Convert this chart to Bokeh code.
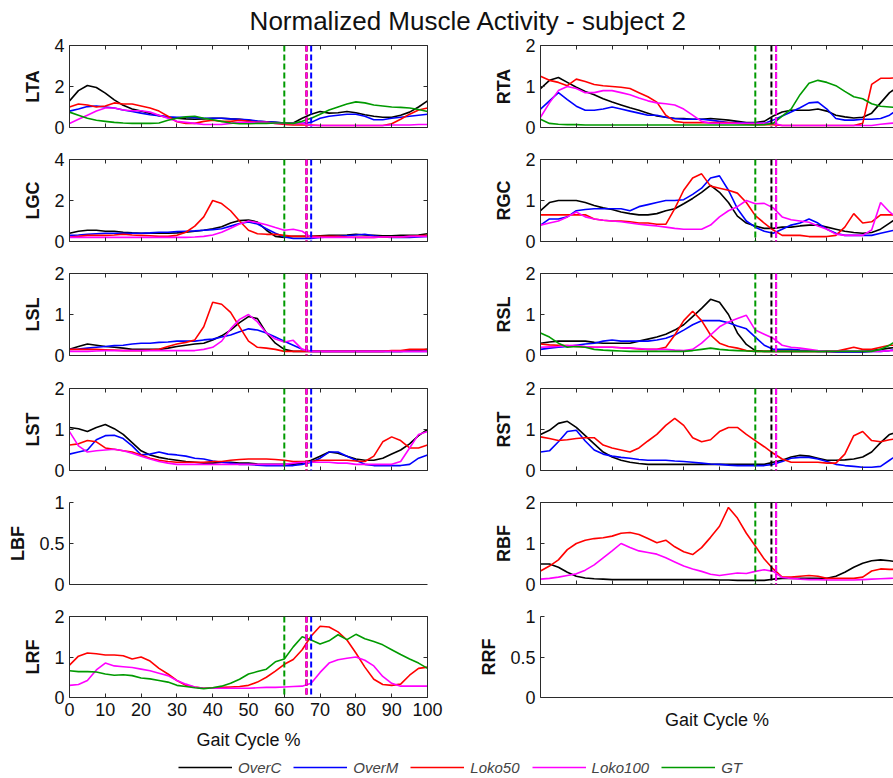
from bokeh.plotting import figure
from bokeh.layouts import column, row
from bokeh.models import (Range1d, LinearAxis, FixedTicker, Span, Legend, LegendItem,
                          Label, NumeralTickFormatter, CustomLabelingPolicy)
from bokeh.embed import file_html
from bokeh.resources import INLINE

# ---------------------------------------------------------------- data
gait_pct = [0, 2.5, 5, 7.5, 10, 12.5, 15, 17.5, 20, 22.5, 25, 27.5, 30, 32.5, 35, 37.5,
            40, 42.5, 45, 47.5, 50, 52.5, 55, 57.5, 60, 62.5, 65, 67.5, 70, 72.5, 75,
            77.5, 80, 82.5, 85, 87.5, 90, 92.5, 95, 97.5, 100]
gait_ticks = [0, 10, 20, 30, 40, 50, 60, 70, 80, 90, 100]
ticks_0_4 = [0, 2, 4]
ticks_0_2 = [0, 1, 2]
ticks_0_1 = [0, 0.5, 1]

series_names = ["OverC", "OverM", "Loko50", "Loko100", "GT"]

# toe-off instants (% gait cycle) per condition, left and right leg
toe_off_left = {"OverC": 66.2, "OverM": 67.5, "Loko50": 66.2, "Loko100": 66.2, "GT": 60.0}
toe_off_right = {"OverC": 64.5, "OverM": 65.8, "Loko50": 65.8, "Loko100": 65.8, "GT": 60.0}

LTA_overc = [1.30, 1.80, 2.05, 1.95, 1.68, 1.35, 1.08, 0.90, 0.80, 0.68,
             0.58, 0.50, 0.45, 0.42, 0.40, 0.42, 0.45, 0.45, 0.42, 0.40,
             0.35, 0.30, 0.28, 0.25, 0.22, 0.22, 0.45, 0.65, 0.78, 0.70,
             0.72, 0.78, 0.72, 0.62, 0.55, 0.50, 0.50, 0.60, 0.75, 1.00, 1.30]
LTA_overm = [0.80, 0.90, 1.02, 1.05, 1.00, 0.95, 0.85, 0.78, 0.70, 0.62,
             0.58, 0.52, 0.50, 0.50, 0.48, 0.45, 0.45, 0.45, 0.42, 0.40,
             0.38, 0.32, 0.28, 0.25, 0.22, 0.20, 0.20, 0.25, 0.45, 0.55,
             0.60, 0.65, 0.65, 0.55, 0.38, 0.38, 0.45, 0.50, 0.55, 0.60, 0.65]
LTA_loko50 = [1.00, 1.15, 1.10, 1.00, 1.05, 1.20, 1.15, 1.15, 1.05, 0.95,
              0.80, 0.55, 0.28, 0.20, 0.20, 0.30, 0.35, 0.30, 0.30, 0.35,
              0.30, 0.25, 0.25, 0.20, 0.15, 0.12, 0.12, 0.12, 0.10, 0.10,
              0.10, 0.10, 0.10, 0.10, 0.10, 0.10, 0.18, 0.40, 0.65, 0.85, 0.95]
LTA_loko100 = [0.20, 0.40, 0.60, 0.80, 0.95, 0.95, 0.85, 0.82, 0.82, 0.75,
               0.60, 0.45, 0.30, 0.25, 0.20, 0.15, 0.15, 0.15, 0.20, 0.25,
               0.25, 0.25, 0.25, 0.20, 0.20, 0.20, 0.20, 0.10, 0.10, 0.10,
               0.10, 0.10, 0.10, 0.10, 0.10, 0.10, 0.12, 0.12, 0.12, 0.15, 0.15]
LTA_gt = [0.75, 0.60, 0.45, 0.35, 0.30, 0.25, 0.22, 0.20, 0.20, 0.20,
          0.22, 0.35, 0.45, 0.52, 0.55, 0.45, 0.38, 0.30, 0.22, 0.18,
          0.18, 0.20, 0.20, 0.22, 0.22, 0.20, 0.30, 0.45, 0.65, 0.85,
          1.00, 1.15, 1.25, 1.20, 1.10, 1.05, 1.00, 0.98, 0.95, 0.88, 0.78]

RTA_overc = [0.95, 1.15, 1.22, 1.10, 0.98, 0.88, 0.80, 0.70, 0.62, 0.55,
             0.48, 0.42, 0.35, 0.28, 0.25, 0.22, 0.22, 0.20, 0.20, 0.22,
             0.20, 0.18, 0.15, 0.12, 0.12, 0.15, 0.28, 0.38, 0.42, 0.42,
             0.42, 0.45, 0.40, 0.30, 0.26, 0.23, 0.25, 0.35, 0.60, 0.85, 1.00]
RTA_overm = [0.45, 0.65, 0.85, 0.68, 0.52, 0.42, 0.42, 0.45, 0.50, 0.45,
             0.40, 0.35, 0.30, 0.30, 0.25, 0.22, 0.20, 0.20, 0.20, 0.18,
             0.15, 0.12, 0.12, 0.10, 0.10, 0.10, 0.18, 0.28, 0.38, 0.48,
             0.60, 0.62, 0.45, 0.22, 0.18, 0.18, 0.20, 0.20, 0.22, 0.30, 0.45]
RTA_loko50 = [1.25, 1.15, 1.10, 1.02, 1.18, 1.12, 1.05, 1.02, 1.00, 0.98,
              0.95, 0.85, 0.75, 0.62, 0.30, 0.15, 0.12, 0.12, 0.12, 0.12,
              0.12, 0.12, 0.10, 0.08, 0.07, 0.07, 0.07, 0.05, 0.05, 0.05,
              0.05, 0.05, 0.05, 0.05, 0.05, 0.05, 0.10, 1.05, 1.20, 1.20, 1.22]
RTA_loko100 = [0.25, 0.60, 0.90, 1.00, 0.95, 0.85, 0.85, 0.90, 0.90, 0.85,
               0.80, 0.72, 0.65, 0.60, 0.58, 0.55, 0.45, 0.30, 0.15, 0.10,
               0.10, 0.10, 0.10, 0.10, 0.10, 0.10, 0.10, 0.05, 0.05, 0.05,
               0.05, 0.05, 0.05, 0.05, 0.05, 0.05, 0.05, 0.05, 0.08, 0.10, 0.12]
RTA_gt = [0.20, 0.10, 0.08, 0.07, 0.07, 0.06, 0.06, 0.06, 0.06, 0.06,
          0.06, 0.06, 0.06, 0.06, 0.06, 0.06, 0.06, 0.06, 0.06, 0.06,
          0.06, 0.06, 0.06, 0.06, 0.06, 0.07, 0.10, 0.28, 0.45, 0.80,
          1.08, 1.15, 1.10, 1.02, 0.88, 0.75, 0.70, 0.58, 0.52, 0.50, 0.48]

LGC_overc = [0.40, 0.50, 0.55, 0.55, 0.50, 0.50, 0.45, 0.42, 0.40, 0.40,
             0.40, 0.40, 0.42, 0.45, 0.50, 0.55, 0.62, 0.72, 0.90, 1.02,
             1.05, 0.95, 0.55, 0.25, 0.20, 0.25, 0.25, 0.25, 0.28, 0.30,
             0.30, 0.32, 0.35, 0.32, 0.30, 0.28, 0.28, 0.30, 0.30, 0.32, 0.38]
LGC_overm = [0.30, 0.32, 0.35, 0.38, 0.40, 0.40, 0.40, 0.40, 0.40, 0.42,
             0.45, 0.45, 0.48, 0.50, 0.52, 0.55, 0.58, 0.62, 0.75, 0.88,
             0.95, 0.85, 0.62, 0.40, 0.22, 0.15, 0.15, 0.15, 0.20, 0.22,
             0.25, 0.28, 0.32, 0.35, 0.28, 0.22, 0.20, 0.20, 0.20, 0.22, 0.25]
LGC_loko50 = [0.22, 0.25, 0.30, 0.30, 0.30, 0.32, 0.35, 0.32, 0.30, 0.28,
              0.25, 0.25, 0.30, 0.45, 0.75, 1.20, 2.00, 1.85, 1.50, 1.00,
              0.55, 0.38, 0.35, 0.35, 0.30, 0.25, 0.25, 0.25, 0.25, 0.25,
              0.25, 0.22, 0.20, 0.20, 0.20, 0.22, 0.22, 0.22, 0.25, 0.28, 0.30]
LGC_loko100 = [0.20, 0.20, 0.20, 0.20, 0.20, 0.20, 0.20, 0.20, 0.20, 0.20,
               0.20, 0.20, 0.20, 0.20, 0.22, 0.25, 0.32, 0.45, 0.65, 0.85,
               1.00, 0.92, 0.82, 0.68, 0.55, 0.60, 0.50, 0.20, 0.20, 0.20,
               0.20, 0.20, 0.20, 0.20, 0.20, 0.22, 0.22, 0.22, 0.25, 0.25, 0.25]

RGC_overc = [0.75, 0.95, 1.00, 1.00, 1.00, 0.95, 0.88, 0.82, 0.78, 0.72,
             0.68, 0.65, 0.65, 0.68, 0.75, 0.80, 0.92, 1.05, 1.20, 1.37,
             1.20, 0.95, 0.62, 0.45, 0.38, 0.32, 0.32, 0.35, 0.35, 0.38,
             0.40, 0.40, 0.35, 0.30, 0.25, 0.22, 0.20, 0.22, 0.30, 0.45, 0.60]
RGC_overm = [0.40, 0.55, 0.55, 0.60, 0.75, 0.78, 0.80, 0.80, 0.80, 0.80,
             0.75, 0.85, 0.90, 0.95, 1.00, 1.00, 1.02, 1.15, 1.30, 1.55,
             1.60, 1.25, 0.80, 0.50, 0.35, 0.25, 0.20, 0.30, 0.40, 0.45,
             0.55, 0.45, 0.30, 0.20, 0.15, 0.15, 0.15, 0.15, 0.20, 0.25, 0.30]
RGC_loko50 = [0.65, 0.65, 0.65, 0.65, 0.65, 0.65, 0.55, 0.52, 0.50, 0.50,
              0.48, 0.45, 0.45, 0.42, 0.42, 0.80, 1.25, 1.55, 1.65, 1.35,
              1.30, 1.25, 1.18, 0.95, 0.63, 0.45, 0.28, 0.15, 0.15, 0.15,
              0.12, 0.12, 0.12, 0.15, 0.35, 0.68, 0.45, 0.48, 0.65, 0.65, 0.65]
RGC_loko100 = [0.40, 0.45, 0.50, 0.60, 0.72, 0.60, 0.55, 0.52, 0.50, 0.48,
               0.45, 0.42, 0.40, 0.38, 0.35, 0.32, 0.30, 0.30, 0.30, 0.40,
               0.60, 0.75, 0.85, 1.00, 0.92, 0.93, 0.82, 0.60, 0.53, 0.50,
               0.47, 0.38, 0.30, 0.18, 0.15, 0.15, 0.15, 0.28, 0.95, 0.72, 0.55]

LSL_overc = [0.15, 0.22, 0.28, 0.25, 0.22, 0.20, 0.18, 0.15, 0.15, 0.15,
             0.15, 0.18, 0.22, 0.25, 0.28, 0.30, 0.38, 0.48, 0.62, 0.80,
             0.95, 0.90, 0.55, 0.30, 0.15, 0.10, 0.10, 0.10, 0.10, 0.10,
             0.10, 0.10, 0.10, 0.10, 0.10, 0.10, 0.10, 0.10, 0.12, 0.12, 0.15]
LSL_overm = [0.15, 0.16, 0.18, 0.20, 0.22, 0.24, 0.25, 0.28, 0.30, 0.30,
             0.32, 0.33, 0.35, 0.35, 0.35, 0.38, 0.40, 0.45, 0.50, 0.58,
             0.65, 0.62, 0.55, 0.45, 0.35, 0.25, 0.15, 0.10, 0.10, 0.10,
             0.10, 0.10, 0.10, 0.10, 0.10, 0.10, 0.10, 0.10, 0.10, 0.10, 0.10]
LSL_loko50 = [0.15, 0.15, 0.15, 0.15, 0.14, 0.13, 0.12, 0.12, 0.12, 0.13,
              0.15, 0.22, 0.28, 0.32, 0.38, 0.70, 1.30, 1.25, 1.05, 0.70,
              0.35, 0.20, 0.18, 0.15, 0.10, 0.10, 0.10, 0.10, 0.10, 0.10,
              0.10, 0.10, 0.10, 0.10, 0.10, 0.10, 0.12, 0.12, 0.15, 0.15, 0.15]
LSL_loko100 = [0.10, 0.10, 0.10, 0.11, 0.12, 0.12, 0.12, 0.12, 0.12, 0.12,
               0.12, 0.12, 0.12, 0.12, 0.12, 0.15, 0.20, 0.35, 0.65, 0.88,
               1.00, 0.82, 0.55, 0.40, 0.33, 0.37, 0.15, 0.10, 0.10, 0.10,
               0.10, 0.10, 0.10, 0.10, 0.10, 0.10, 0.10, 0.10, 0.10, 0.10, 0.10]

RSL_overc = [0.30, 0.33, 0.35, 0.35, 0.35, 0.35, 0.32, 0.30, 0.30, 0.30,
             0.30, 0.35, 0.40, 0.45, 0.52, 0.62, 0.75, 0.95, 1.15, 1.37,
             1.30, 1.00, 0.55, 0.27, 0.12, 0.10, 0.10, 0.10, 0.10, 0.10,
             0.10, 0.10, 0.10, 0.10, 0.10, 0.10, 0.10, 0.12, 0.15, 0.18, 0.20]
RSL_overm = [0.15, 0.18, 0.20, 0.22, 0.25, 0.28, 0.30, 0.35, 0.38, 0.35,
             0.35, 0.35, 0.35, 0.38, 0.42, 0.50, 0.62, 0.75, 0.85, 0.85,
             0.85, 0.80, 0.72, 0.65, 0.45, 0.25, 0.15, 0.15, 0.15, 0.13,
             0.12, 0.10, 0.10, 0.08, 0.08, 0.08, 0.08, 0.10, 0.10, 0.12, 0.15]
RSL_loko50 = [0.28, 0.26, 0.25, 0.24, 0.22, 0.21, 0.20, 0.20, 0.20, 0.19,
              0.18, 0.16, 0.15, 0.15, 0.20, 0.50, 0.85, 1.08, 0.85, 0.50,
              0.30, 0.22, 0.18, 0.12, 0.10, 0.10, 0.10, 0.10, 0.10, 0.10,
              0.10, 0.10, 0.10, 0.10, 0.15, 0.20, 0.15, 0.15, 0.20, 0.25, 0.25]
RSL_loko100 = [0.20, 0.21, 0.22, 0.24, 0.25, 0.22, 0.20, 0.20, 0.20, 0.19,
               0.18, 0.17, 0.15, 0.15, 0.15, 0.13, 0.12, 0.15, 0.30, 0.50,
               0.70, 0.82, 0.90, 0.98, 0.62, 0.52, 0.42, 0.25, 0.20, 0.18,
               0.15, 0.12, 0.10, 0.10, 0.10, 0.10, 0.10, 0.10, 0.10, 0.12, 0.12]
RSL_gt = [0.55, 0.45, 0.30, 0.20, 0.22, 0.20, 0.15, 0.13, 0.12, 0.11,
          0.10, 0.10, 0.10, 0.10, 0.10, 0.10, 0.10, 0.12, 0.15, 0.18,
          0.15, 0.13, 0.12, 0.11, 0.10, 0.10, 0.10, 0.10, 0.10, 0.10,
          0.10, 0.10, 0.10, 0.10, 0.10, 0.10, 0.10, 0.10, 0.15, 0.25, 0.40]

LST_overc = [1.05, 1.02, 0.95, 1.05, 1.12, 1.02, 0.88, 0.68, 0.48, 0.38,
             0.32, 0.28, 0.25, 0.22, 0.20, 0.18, 0.18, 0.20, 0.20, 0.18,
             0.18, 0.16, 0.15, 0.15, 0.15, 0.15, 0.18, 0.25, 0.35, 0.45,
             0.42, 0.35, 0.28, 0.25, 0.25, 0.30, 0.40, 0.50, 0.65, 0.85, 1.00]
LST_overm = [0.40, 0.45, 0.50, 0.75, 0.85, 0.86, 0.78, 0.60, 0.38, 0.40,
             0.45, 0.40, 0.38, 0.35, 0.30, 0.28, 0.23, 0.20, 0.18, 0.15,
             0.15, 0.13, 0.12, 0.12, 0.12, 0.12, 0.15, 0.20, 0.30, 0.45,
             0.45, 0.35, 0.25, 0.15, 0.12, 0.12, 0.12, 0.12, 0.15, 0.30, 0.38]
LST_loko50 = [0.62, 0.65, 0.73, 0.70, 0.55, 0.52, 0.48, 0.45, 0.38, 0.30,
              0.25, 0.22, 0.20, 0.20, 0.20, 0.20, 0.22, 0.22, 0.25, 0.27,
              0.28, 0.28, 0.28, 0.27, 0.25, 0.22, 0.22, 0.22, 0.25, 0.25,
              0.25, 0.25, 0.23, 0.22, 0.35, 0.70, 0.82, 0.73, 0.55, 0.55, 0.62]
LST_loko100 = [0.95, 0.60, 0.45, 0.48, 0.50, 0.52, 0.48, 0.42, 0.35, 0.28,
               0.22, 0.18, 0.15, 0.15, 0.15, 0.15, 0.15, 0.15, 0.15, 0.15,
               0.15, 0.15, 0.15, 0.15, 0.15, 0.18, 0.20, 0.20, 0.20, 0.20,
               0.18, 0.18, 0.15, 0.15, 0.15, 0.15, 0.15, 0.22, 0.55, 0.88, 0.95]

RST_overc = [0.88, 0.98, 1.15, 1.20, 1.05, 0.85, 0.65, 0.45, 0.33, 0.25,
             0.20, 0.17, 0.15, 0.15, 0.15, 0.15, 0.15, 0.15, 0.15, 0.15,
             0.15, 0.15, 0.15, 0.15, 0.15, 0.15, 0.20, 0.25, 0.33, 0.37,
             0.35, 0.30, 0.25, 0.25, 0.26, 0.28, 0.33, 0.45, 0.68, 0.88, 0.95]
RST_overm = [0.45, 0.48, 0.70, 0.95, 0.98, 0.72, 0.50, 0.40, 0.35, 0.32,
             0.30, 0.27, 0.25, 0.25, 0.25, 0.23, 0.22, 0.20, 0.18, 0.16,
             0.15, 0.13, 0.12, 0.12, 0.12, 0.12, 0.15, 0.22, 0.30, 0.32,
             0.32, 0.28, 0.22, 0.15, 0.12, 0.10, 0.08, 0.08, 0.10, 0.25, 0.40]
RST_loko50 = [0.82, 0.78, 0.73, 0.75, 0.78, 0.80, 0.80, 0.62, 0.55, 0.50,
              0.45, 0.55, 0.72, 0.88, 1.10, 1.27, 1.10, 0.80, 0.70, 0.75,
              0.95, 1.05, 1.05, 0.88, 0.73, 0.58, 0.42, 0.28, 0.20, 0.20,
              0.20, 0.20, 0.18, 0.18, 0.40, 0.85, 0.95, 0.73, 0.70, 0.75, 0.78]

RBF_overc = [0.50, 0.50, 0.42, 0.30, 0.20, 0.16, 0.14, 0.13, 0.12, 0.12,
             0.12, 0.12, 0.12, 0.12, 0.12, 0.12, 0.12, 0.12, 0.12, 0.12,
             0.11, 0.11, 0.10, 0.10, 0.10, 0.10, 0.13, 0.15, 0.15, 0.15,
             0.15, 0.15, 0.15, 0.20, 0.30, 0.42, 0.52, 0.58, 0.60, 0.58, 0.55]
RBF_loko50 = [0.33, 0.45, 0.60, 0.85, 1.00, 1.08, 1.12, 1.14, 1.18, 1.25,
              1.27, 1.22, 1.12, 1.02, 1.08, 0.92, 0.80, 0.73, 0.90, 1.15,
              1.42, 1.88, 1.62, 1.25, 0.94, 0.62, 0.38, 0.18, 0.18, 0.20,
              0.22, 0.20, 0.15, 0.15, 0.15, 0.15, 0.18, 0.33, 0.38, 0.37, 0.37]
RBF_loko100 = [0.13, 0.15, 0.18, 0.22, 0.26, 0.35, 0.48, 0.65, 0.82, 1.00,
               0.90, 0.82, 0.78, 0.74, 0.65, 0.55, 0.45, 0.38, 0.32, 0.25,
               0.22, 0.25, 0.28, 0.27, 0.32, 0.36, 0.32, 0.17, 0.15, 0.13,
               0.12, 0.12, 0.11, 0.11, 0.11, 0.11, 0.12, 0.13, 0.14, 0.15, 0.16]

LRF_loko50 = [0.80, 1.02, 1.10, 1.08, 1.05, 1.05, 1.03, 0.95, 1.00, 0.90,
              0.72, 0.58, 0.42, 0.30, 0.26, 0.23, 0.24, 0.25, 0.26, 0.27,
              0.30, 0.38, 0.50, 0.65, 0.82, 0.94, 1.18, 1.52, 1.76, 1.74,
              1.62, 1.42, 1.10, 0.75, 0.45, 0.32, 0.30, 0.33, 0.55, 0.72, 0.75]
LRF_loko100 = [0.30, 0.32, 0.42, 0.68, 0.85, 0.78, 0.76, 0.74, 0.70, 0.66,
               0.60, 0.54, 0.42, 0.33, 0.26, 0.23, 0.23, 0.23, 0.23, 0.23,
               0.23, 0.24, 0.25, 0.25, 0.26, 0.27, 0.28, 0.35, 0.62, 0.85,
               0.93, 0.97, 1.00, 0.92, 0.78, 0.52, 0.35, 0.28, 0.28, 0.28, 0.28]
LRF_gt = [0.66, 0.64, 0.64, 0.63, 0.58, 0.55, 0.56, 0.54, 0.48, 0.46,
          0.42, 0.38, 0.30, 0.27, 0.24, 0.22, 0.24, 0.28, 0.35, 0.45,
          0.58, 0.64, 0.70, 0.88, 0.95, 1.25, 1.50, 1.42, 1.32, 1.40,
          1.55, 1.43, 1.56, 1.45, 1.38, 1.30, 1.18, 1.06, 0.95, 0.85, 0.72]

# ---------------------------------------------------------------- style
FONT = "Liberation Sans"
AXIS_COLOR = "#2b2b2b"
TEXT_COLOR = "#111111"
COLORS = {"OverC": "#000000", "OverM": "#0000ff", "Loko50": "#ff0000",
          "Loko100": "#ff00ff", "GT": "#009a00"}

LEFT_FRAME = 358          # px for 0..100 % of the gait cycle
RIGHT_FRAME = 353         # right column is cut at the page edge
LEFT_W, RIGHT_W = 470, 423
ROW_HEIGHTS = [114, 114, 115, 114, 114]
LAST_ROW_H = 146
FRAME_H = 82
TOP_BORDER = 10
HEADER_H, LEGEND_H = 35, 26

# tick marks only, no tick labels (box-style top / right axes)
NO_LABELS = CustomLabelingPolicy(code="return []")


def style_axis(ax, show_labels=True, ticks=True):
    ax.axis_line_color = AXIS_COLOR
    ax.axis_line_width = 1
    ax.major_tick_line_color = AXIS_COLOR if ticks else None
    ax.major_tick_in = 4 if ticks else 0
    ax.major_tick_out = 0
    ax.minor_tick_line_color = None
    ax.major_label_text_font = FONT
    ax.major_label_text_color = TEXT_COLOR
    if show_labels:
        ax.major_label_text_font_size = "18px"
        ax.major_label_standoff = 5
    else:
        ax.major_label_text_font_size = "0px"
        ax.major_label_standoff = 0
        ax.major_label_policy = NO_LABELS
    ax.axis_label_text_font = FONT
    ax.axis_label_text_color = TEXT_COLOR
    ax.axis_label_text_font_size = "18px"


def make_panel(name, curves, y_max, y_ticks, side, height, x_tick_labels=False,
               x_title=None):
    on_left = side == "left"
    x_end = 100 if on_left else 100 * RIGHT_FRAME / LEFT_FRAME
    p = figure(width=LEFT_W if on_left else RIGHT_W, height=height,
               title=None,
               x_range=Range1d(0, x_end), y_range=Range1d(0, y_max),
               x_axis_location=None, y_axis_location=None,
               min_border_left=69 if on_left else 70,
               min_border_right=43 if on_left else 0,
               min_border_top=TOP_BORDER,
               min_border_bottom=height - TOP_BORDER - FRAME_H,
               output_backend="svg", toolbar_location=None)
    p.outline_line_color = None
    p.grid.visible = False
    p.background_fill_color = "white"
    p.border_fill_color = "white"

    # y axis with muscle name
    ya = LinearAxis(ticker=FixedTicker(ticks=y_ticks),
                    formatter=NumeralTickFormatter(format="0.[0]"),
                    axis_label=name)
    style_axis(ya)
    ya.axis_label_text_font_style = "bold"
    ya.axis_label_standoff = 8
    p.add_layout(ya, "left")

    if curves is None:
        xb = LinearAxis(ticker=FixedTicker(ticks=[]), axis_label=x_title)
        style_axis(xb, show_labels=False, ticks=False)
        xb.axis_label_text_font_style = "normal"
        xb.axis_label_standoff = 12
        p.add_layout(xb, "below")
        return p

    for s in series_names:
        if s in curves:
            p.line(gait_pct, curves[s], line_color=COLORS[s], line_width=1.6)

    toe = toe_off_left if on_left else toe_off_right
    for s in series_names:
        p.add_layout(Span(location=toe[s], dimension="height",
                          line_color=COLORS[s], line_width=2, line_dash="6 3"))

    xb = LinearAxis(ticker=FixedTicker(ticks=gait_ticks), axis_label=x_title)
    style_axis(xb, show_labels=x_tick_labels)
    xb.axis_label_text_font_style = "normal"
    xb.axis_label_standoff = 11
    p.add_layout(xb, "below")

    xt = LinearAxis(ticker=FixedTicker(ticks=gait_ticks))
    style_axis(xt, show_labels=False)
    p.add_layout(xt, "above")

    if on_left:
        yr = LinearAxis(ticker=FixedTicker(ticks=y_ticks))
        style_axis(yr, show_labels=False)
        p.add_layout(yr, "right")
    return p


LTA = {"OverC": LTA_overc, "OverM": LTA_overm, "Loko50": LTA_loko50, "Loko100": LTA_loko100, "GT": LTA_gt}
RTA = {"OverC": RTA_overc, "OverM": RTA_overm, "Loko50": RTA_loko50, "Loko100": RTA_loko100, "GT": RTA_gt}
LGC = {"OverC": LGC_overc, "OverM": LGC_overm, "Loko50": LGC_loko50, "Loko100": LGC_loko100}
RGC = {"OverC": RGC_overc, "OverM": RGC_overm, "Loko50": RGC_loko50, "Loko100": RGC_loko100}
LSL = {"OverC": LSL_overc, "OverM": LSL_overm, "Loko50": LSL_loko50, "Loko100": LSL_loko100}
RSL = {"OverC": RSL_overc, "OverM": RSL_overm, "Loko50": RSL_loko50, "Loko100": RSL_loko100, "GT": RSL_gt}
LST = {"OverC": LST_overc, "OverM": LST_overm, "Loko50": LST_loko50, "Loko100": LST_loko100}
RST = {"OverC": RST_overc, "OverM": RST_overm, "Loko50": RST_loko50}
RBF = {"OverC": RBF_overc, "Loko50": RBF_loko50, "Loko100": RBF_loko100}
LRF = {"Loko50": LRF_loko50, "Loko100": LRF_loko100, "GT": LRF_gt}

h = ROW_HEIGHTS
rows = [
    row(make_panel("LTA", LTA, 4, ticks_0_4, "left", h[0]),
        make_panel("RTA", RTA, 2, ticks_0_2, "right", h[0])),
    row(make_panel("LGC", LGC, 4, ticks_0_4, "left", h[1]),
        make_panel("RGC", RGC, 2, ticks_0_2, "right", h[1])),
    row(make_panel("LSL", LSL, 2, ticks_0_2, "left", h[2]),
        make_panel("RSL", RSL, 2, ticks_0_2, "right", h[2])),
    row(make_panel("LST", LST, 2, ticks_0_2, "left", h[3]),
        make_panel("RST", RST, 2, ticks_0_2, "right", h[3])),
    row(make_panel("LBF", None, 1, ticks_0_1, "left", h[4]),
        make_panel("RBF", RBF, 2, ticks_0_2, "right", h[4])),
    row(make_panel("LRF", LRF, 2, ticks_0_2, "left", LAST_ROW_H, x_tick_labels=True,
                   x_title="Gait Cycle %"),
        make_panel("RRF", None, 1, ticks_0_1, "right", LAST_ROW_H,
                   x_title="Gait Cycle %")),
]

# ---------------------------------------------------------------- title
header = figure(width=LEFT_W + RIGHT_W, height=HEADER_H, title=None,
                x_range=Range1d(0, LEFT_W + RIGHT_W), y_range=Range1d(0, HEADER_H),
                x_axis_location=None, y_axis_location=None,
                min_border=0, output_backend="svg", toolbar_location=None)
header.outline_line_color = None
header.grid.visible = False
header.add_layout(Label(x=468, y=15, x_units="data", y_units="data",
                        text="Normalized Muscle Activity - subject 2",
                        text_align="center", text_baseline="middle",
                        text_font=FONT, text_font_size="26px", text_color=TEXT_COLOR))

# ---------------------------------------------------------------- legend
footer = figure(width=LEFT_W + RIGHT_W, height=LEGEND_H, title=None,
                x_range=Range1d(0, 1), y_range=Range1d(0, 1),
                x_axis_location=None, y_axis_location=None,
                min_border=0, output_backend="svg", toolbar_location=None)
footer.outline_line_color = None
footer.grid.visible = False
items = []
for s in series_names:
    # legend swatches only; the renderer itself stays hidden
    r = footer.line(x=[0, 1], y=[0, 1], line_color=COLORS[s], line_width=1.6, visible=False)
    items.append(LegendItem(label=s, renderers=[r]))
legend = Legend(items=items, orientation="horizontal", location=(178, 1),
                glyph_width=54, glyph_height=20, label_height=20,
                label_standoff=6, spacing=12, padding=0, margin=0,
                border_line_color=None, background_fill_alpha=0,
                label_text_font=FONT, label_text_font_size="15px",
                label_text_font_style="italic", label_text_color="#444444")
footer.add_layout(legend)

layout = column([header] + rows + [footer])

open("out.html", "w").write(file_html(layout, INLINE))
